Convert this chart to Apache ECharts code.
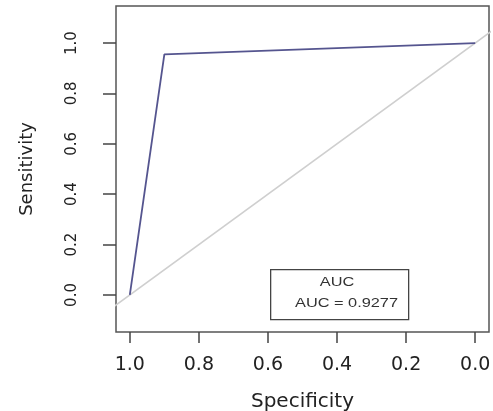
<!DOCTYPE html>
<html>
<head>
<meta charset="utf-8">
<script src="https://cdn.jsdelivr.net/npm/echarts@6/dist/echarts.min.js"></script>
<style>
  html, body { margin: 0; padding: 0; background: #fff; }
  #chart { width: 493px; height: 411px; }
</style>
</head>
<body>
<div id="chart"></div>
<script>
// ROC curve (specificity on reversed x axis)
const specificity = [1.0, 0.9, 0.0];
const sensitivity = [0.0, 0.955, 1.0];
// chance diagonal, clipped by the plot box
const diagSpec = [1.1, -0.1];
const diagSens = [-0.1, 1.1];
const tickValues = [0, 0.2, 0.4, 0.6, 0.8, 1.0];
const legendTitle = "AUC";
const aucText = "AUC = 0.9277";

const font = "DejaVu Sans";
const boxFont = "'Liberation Sans', Arial, sans-serif";
const chart = echarts.init(document.getElementById("chart"));

chart.setOption({
    animation: false,
    backgroundColor: "#fff",
    grid: {
        left: 116, right: 4, top: 6, bottom: 79,
        outerBoundsMode: "none", containLabel: false,
        show: true, borderColor: "#555", borderWidth: 1.5
    },
    xAxis: {
        type: "value", inverse: true, min: -0.04, max: 1.04,
        name: "Specificity", nameLocation: "middle", nameGap: 60,
        nameTextStyle: { fontFamily: font, fontSize: 20, color: "#222" },
        axisLine: { show: false, onZero: false },
        splitLine: { show: false },
        axisTick: { show: true, customValues: tickValues, length: 11, lineStyle: { color: "#444", width: 1.5 } },
        axisLabel: {
            customValues: tickValues, margin: 24,
            fontFamily: font, fontSize: 19, color: "#222",
            formatter: v => v.toFixed(1)
        }
    },
    yAxis: {
        type: "value", min: -0.147, max: 1.147,
        name: "Sensitivity", nameLocation: "middle", nameGap: 80,
        nameTextStyle: { fontFamily: font, fontSize: 18, color: "#222" },
        axisLine: { show: false, onZero: false },
        splitLine: { show: false },
        axisTick: { show: true, customValues: tickValues, length: 13, lineStyle: { color: "#444", width: 1.5 } },
        axisLabel: {
            customValues: tickValues, margin: 36, rotate: 90,
            fontFamily: font, fontSize: 15, color: "#222",
            formatter: v => v.toFixed(1)
        }
    },
    series: [
        {
            type: "line", symbol: "none", silent: true,
            data: diagSpec.map((s, i) => [s, diagSens[i]]),
            lineStyle: { color: "#cfcfcf", width: 1.5 }
        },
        {
            type: "line", symbol: "none", silent: true,
            data: specificity.map((s, i) => [s, sensitivity[i]]),
            lineStyle: { color: "#55558f", width: 1.8 }
        }
    ],
    graphic: [
        {
            type: "rect", left: 270, top: 269,
            shape: { width: 138, height: 50 },
            style: { fill: "#fff", stroke: "#444", lineWidth: 1.3 }
        },
        {
            type: "text", x: 337, y: 283, scaleX: 1.36,
            style: {
                text: legendTitle, fontFamily: boxFont, fontSize: 12, fill: "#333",
                textAlign: "center", textVerticalAlign: "middle"
            }
        },
        {
            type: "text", x: 346.5, y: 304, scaleX: 1.36,
            style: {
                text: aucText, fontFamily: boxFont, fontSize: 12, fill: "#333",
                textAlign: "center", textVerticalAlign: "middle"
            }
        }
    ]
});
</script>
</body>
</html>
